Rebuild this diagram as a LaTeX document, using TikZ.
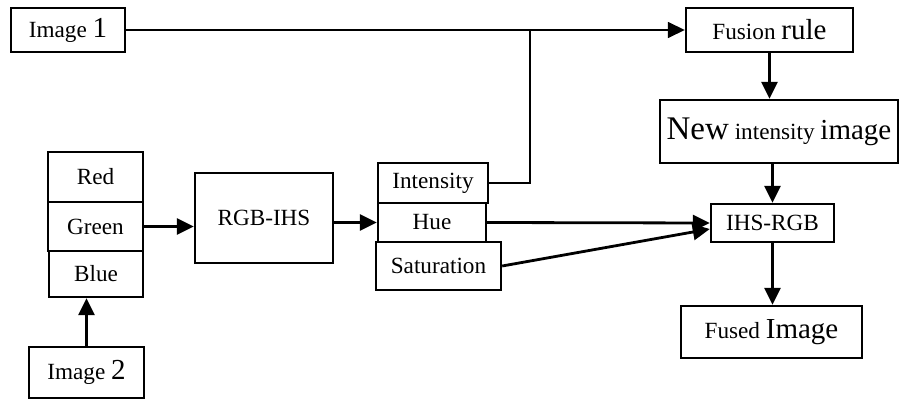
\documentclass[tikz,border=0pt]{standalone}
\usepackage{fontspec}
\setmainfont{Liberation Serif}
\usepackage{tikz}
\usetikzlibrary{arrows.meta,calc}
\newcommand{\bigw}[1]{{\fontsize{14.5}{16}\selectfont #1}}
\newcommand{\hugew}[1]{{\fontsize{16.5}{18}\selectfont #1}}
\tikzset{
  >={Triangle[length=8.5pt,width=8pt]},
  box/.style={draw,line width=1.2pt,inner sep=0pt,align=center,font=\fontsize{11.6}{13}\selectfont},
  arr/.style={->,line width=1.4pt},
  tarr/.style={->,line width=0.8pt},
  tline/.style={line width=1pt},
}
\begin{document}
\begin{tikzpicture}[x=0.5pt,y=-0.5pt]
\useasboundingbox (0,0) rectangle (901,401);
% First input
\node[box,minimum width=57pt,minimum height=22pt] (img1) at (68,30) {Image \bigw{1}};
\node[box,minimum width=83.5pt,minimum height=22pt] (fusion) at (769.5,30) {Fusion \bigw{rule}};
\node[box,minimum width=119pt,minimum height=31.5pt] (newint) at (779,131.5) {\hugew{New} intensity \bigw{image}};
\node[box,minimum width=61.5pt,minimum height=19pt] (ihsrgb) at (772.5,223) {IHS-RGB};
\node[box,minimum width=90.5pt,minimum height=26pt] (fused) at (771.5,332) {Fused \bigw{Image}};
% Second input and its bands
\node[box,minimum width=47.5pt,minimum height=25pt] (red) at (95.5,177) {Red};
\node[box,minimum width=47.5pt,minimum height=24.5pt] (green) at (95.5,226.5) {Green};
\node[box,minimum width=47pt,minimum height=23pt] (blue) at (96,274) {Blue};
\node[box,minimum width=57.5pt,minimum height=25.5pt] (img2) at (86.5,372.5) {Image \bigw{2}};
\node[box,minimum width=69pt,minimum height=45pt] (rgbihs) at (264,218) {RGB-IHS};
% IHS components
\node[box,minimum width=55pt,minimum height=20pt] (inten) at (433,183) {Intensity};
\node[box,minimum width=54pt,minimum height=19.5pt] (hue) at (432,222.5) {Hue};
\node[box,minimum width=62.5pt,minimum height=24pt] (sat) at (438.5,266) {Saturation};
\coordinate (jn) at (530,30);
% Connectors
\draw[tarr] (img1.east) -- (fusion.west);
\draw[tline] (inten.east) -- (inten.east -| jn) -- (jn);
\draw[arr] (fusion.south) -- (fusion.south |- newint.north);
\draw[arr] (newint.south -| ihsrgb.north) -- (ihsrgb.north);
\draw[arr] (ihsrgb.south) -- (ihsrgb.south |- fused.north);
\draw[arr] (img2.north) -- (img2.north |- blue.south);
\draw[arr] (green.east) -- (green.east -| rgbihs.west);
\draw[arr] (rgbihs.east |- hue.west) -- (hue.west);
\draw[arr] (hue.east) -- (ihsrgb.west);
\draw[arr] (sat.east) -- ([yshift=-3pt]ihsrgb.west);
\end{tikzpicture}
\end{document}
